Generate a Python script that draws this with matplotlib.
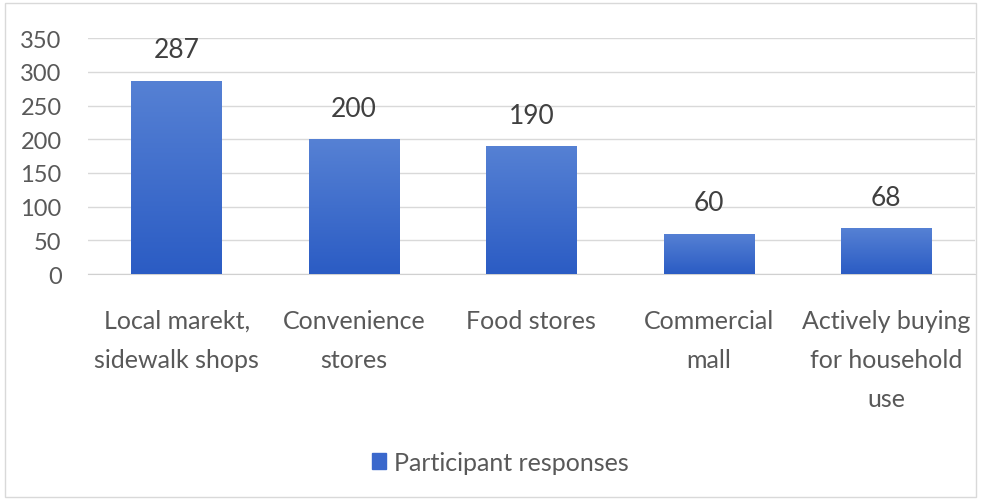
import numpy as np
import matplotlib
matplotlib.use("Agg")
import matplotlib.pyplot as plt
from matplotlib.patches import Rectangle

categories = ["Local marekt,\nsidewalk shops", "Convenience\nstores", "Food stores",
              "Commercial\nmall", "Actively buying\nfor household\nuse"]
responses = [287, 200, 190, 60, 68]
yticks = [0, 50, 100, 150, 200, 250, 300, 350]
series_name = "Participant responses"

plt.rcParams["font.family"] = ["Lato", "DejaVu Sans"]
TEXT = "#595959"

fig = plt.figure(figsize=(9.81, 5.02), dpi=100)
ax = fig.add_axes([0.0897, 0.452, 0.904, 0.47])

x = np.arange(len(categories))
bars = ax.bar(x, responses, width=0.51, color="#3a68cc", zorder=2, label=series_name)

# vertical gradient inside each bar, lighter on top
grad = np.linspace(0, 1, 256).reshape(-1, 1)
cmap = matplotlib.colors.LinearSegmentedColormap.from_list("g", ["#2b5cc4", "#5681d4"])
for b in bars:
    x0, y0, w, h = b.get_x(), b.get_y(), b.get_width(), b.get_height()
    im = ax.imshow(grad, extent=[x0, x0 + w, y0, y0 + h], origin="lower", cmap=cmap,
                   aspect="auto", zorder=3)
    im.set_clip_path(b)

for xi, v in zip(x, responses):
    ax.text(xi, v + 27, str(v), ha="center", va="bottom", fontsize=19, color="#404040")

ax.set_xlim(-0.5, len(categories) - 0.5)
ax.set_ylim(0, 350)
ax.set_yticks(yticks)
ax.yaxis.grid(True, color="#d9d9d9", linewidth=1, zorder=0)
ax.set_axisbelow(True)
for s in ["top", "right", "left"]:
    ax.spines[s].set_visible(False)
ax.spines["bottom"].set_color("#d0d0d0")
ax.tick_params(axis="both", length=0, colors=TEXT)
ax.tick_params(axis="y", pad=19, labelsize=17)
ax.tick_params(axis="x", pad=25)
ax.set_xticks(x)
ax.set_xticklabels(categories, fontsize=18, linespacing=1.85)

leg = fig.legend(handles=[Rectangle((0, 0), 1, 1, color="#3a68cc")], labels=[series_name],
                 loc="center", bbox_to_anchor=(0.51, 0.077), frameon=False,
                 fontsize=18, handlelength=0.55, handleheight=0.55, handletextpad=0.3)
for t in leg.get_texts():
    t.set_color(TEXT)

fig.patches.append(Rectangle((0.005, 0.008), 0.99, 0.984, transform=fig.transFigure,
                             fill=False, edgecolor="#d9d9d9", linewidth=1))

fig.savefig("out.png", dpi=100)
